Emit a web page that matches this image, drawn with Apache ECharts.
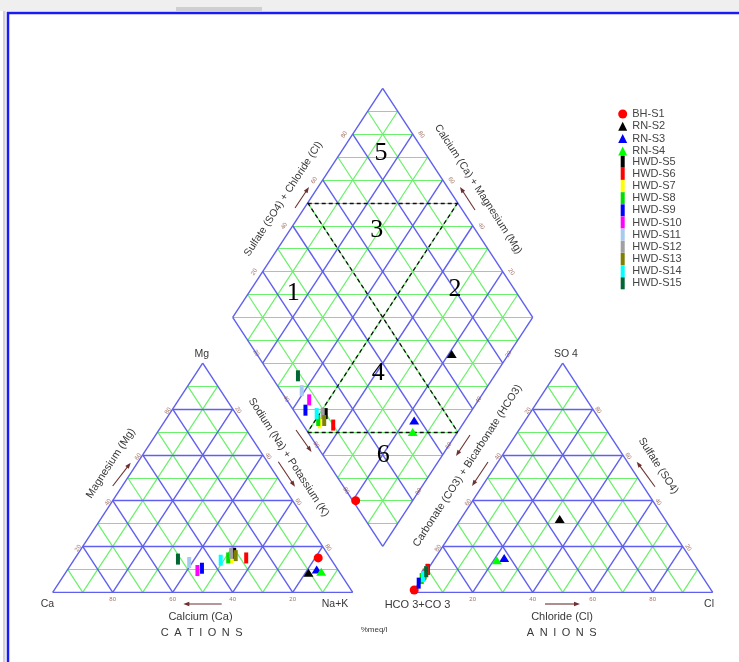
<!DOCTYPE html>
<html>
<head>
<meta charset="utf-8">
<script src="https://cdn.jsdelivr.net/npm/echarts@6/dist/echarts.min.js"></script>
<style>
html, body { margin: 0; padding: 0; background: #fff; }
#chart { width: 739px; height: 662px; }
</style>
</head>
<body>
<div id="chart"></div>
<script>
// Samples (percent of meq/l)
const samples = ['BH-S1', 'RN-S2', 'RN-S3', 'RN-S4', 'HWD-S5', 'HWD-S6', 'HWD-S7', 'HWD-S8',
  'HWD-S9', 'HWD-S10', 'HWD-S11', 'HWD-S12', 'HWD-S13', 'HWD-S14', 'HWD-S15'];
const colors = ['#ff0000', '#000000', '#0000ff', '#00ff00', '#000000', '#ff0000', '#ffff00', '#00dd00',
  '#0000ff', '#ff00ff', '#a6caf0', '#a0a0a0', '#808000', '#00ffff', '#006633'];
const symbols = ['circle', 'triangle', 'triangle', 'triangle', 'rect', 'rect', 'rect', 'rect',
  'rect', 'rect', 'rect', 'rect', 'rect', 'rect', 'rect'];

// cations
const ca  = [4,   10.5, 7,  6,  31, 28, 33, 34, 45,   47,   48, 32, 31, 37, 51];
const mg  = [15,  8.5,  10, 9,  17, 15, 15, 15, 10.5, 9.5,  13, 17, 16, 14, 14.5];
const nak = [81,  81,   83, 85, 52, 57, 52, 51, 44.5, 43.5, 39, 51, 53, 49, 34.5];
// anions
const hco3 = [99, 35, 62, 65, 90, 90, 94, 94, 96, 92.5, 93, 91, 92, 93, 91];
const so4  = [1,  32, 15, 14, 10, 10, 6,  6,  4,  7.5,  7,  9,  8,  7,  9];
const cl   = [0,  33, 23, 21, 0,  0,  0,  0,  0,  0,    0,  0,  0,  0,  0];

const tickValues = [20, 40, 60, 80];
const gridSteps = [10, 20, 30, 40, 50, 60, 70, 80, 90];

// diagram geometry (triangle side = 100 units)
const H = Math.sqrt(3) / 2;
const GAP = 20;
const AX = 100 + GAP;
function cat(c, m, n) { return [n + m / 2, m * H]; }
function an(h, s, c) { return [AX + c + s / 2, s * H]; }
function dia(n, h) { return [(200 + GAP + n - h) / 2, H * (200 + GAP - n - h)]; }

const blueLines = [], greenLines = [], dashLines = [];
function seg(k, a, b) { (k % 20 === 0 ? blueLines : greenLines).push({ coords: [a, b] }); }
gridSteps.forEach(k => {
  seg(k, cat(100 - k, k, 0), cat(0, k, 100 - k));
  seg(k, cat(100 - k, 0, k), cat(0, 100 - k, k));
  seg(k, cat(k, 0, 100 - k), cat(k, 100 - k, 0));
  seg(k, an(100 - k, k, 0), an(0, k, 100 - k));
  seg(k, an(100 - k, 0, k), an(0, 100 - k, k));
  seg(k, an(k, 0, 100 - k), an(k, 100 - k, 0));
  seg(k, dia(k, 0), dia(k, 100));
  seg(k, dia(0, k), dia(100, k));
});
for (let c = 10; c < 200; c += 10) {
  const a = c <= 100 ? dia(0, c) : dia(c - 100, 100);
  const b = c <= 100 ? dia(c, 0) : dia(100, c - 100);
  greenLines.push({ coords: [a, b] });
}
// outlines
[[cat(100, 0, 0), cat(0, 0, 100)], [cat(0, 0, 100), cat(0, 100, 0)], [cat(0, 100, 0), cat(100, 0, 0)],
 [an(100, 0, 0), an(0, 0, 100)], [an(0, 0, 100), an(0, 100, 0)], [an(0, 100, 0), an(100, 0, 0)],
 [dia(0, 0), dia(100, 0)], [dia(100, 0), dia(100, 100)], [dia(100, 100), dia(0, 100)], [dia(0, 100), dia(0, 0)]
].forEach(p => blueLines.push({ coords: p }));
// facies boundaries
[[dia(0, 50), dia(50, 0)], [dia(50, 100), dia(100, 50)], [dia(0, 50), dia(100, 50)], [dia(50, 0), dia(50, 100)]]
  .forEach(p => dashLines.push({ coords: p }));

// edge tick labels
const tickItems = [];
function tick(pos, k, rot, off) {
  tickItems.push({ value: pos, label: { formatter: String(k), rotate: rot, offset: off } });
}
tickValues.forEach(k => {
  tick(cat(k, 0, 100 - k), k, 0, [0, 7]);
  tick(cat(100 - k, k, 0), k, 57, [-4, -3]);
  tick(cat(0, 100 - k, k), k, -57, [4, -4]);
  tick(an(100 - k, 0, k), k, 0, [0, 7]);
  tick(an(k, 100 - k, 0), k, 57, [-4, -3]);
  tick(an(0, k, 100 - k), k, -57, [4, -4]);
  tick(dia(0, 100 - k), k, 57, [-5, -7]);
  tick(dia(100 - k, 0), k, -57, [5, -7]);
  tick(dia(k, 100), k, -57, [-12, 0]);
  tick(dia(100, k), k, 57, [11, 0]);
});

const sampleSeries = samples.map((name, i) => ({
  type: 'scatter',
  name: name,
  symbol: symbols[i],
  symbolSize: symbols[i] === 'rect' ? [4, 11] : (symbols[i] === 'circle' ? 9 : [10, 8]),
  clip: false,
  silent: true,
  z: 10 + i,
  itemStyle: { color: colors[i], opacity: 1 },
  data: [cat(ca[i], mg[i], nak[i]), an(hco3[i], so4[i], cl[i]), dia(nak[i], hco3[i])]
}));

const FONT = '"Liberation Sans", Arial, sans-serif';
const TXT = '#383838';
const BROWN = '#6e3030';

function text(str, x, y, size, rotDeg) {
  return {
    type: 'text', x: x, y: y, rotation: (rotDeg || 0) * Math.PI / 180, silent: true, z: 50,
    style: { text: str, font: size + 'px ' + FONT, fill: TXT, align: 'center', verticalAlign: 'middle',
      textAlign: 'center', textVerticalAlign: 'middle' }
  };
}
function arrow(x1, y1, x2, y2) {
  const dx = x2 - x1, dy = y2 - y1, L = Math.hypot(dx, dy), ux = dx / L, uy = dy / L;
  return [
    { type: 'line', silent: true, z: 50, shape: { x1: x1, y1: y1, x2: x2 - ux * 3, y2: y2 - uy * 3 },
      style: { stroke: BROWN, lineWidth: 1.1 } },
    { type: 'polygon', silent: true, z: 50,
      shape: { points: [[x2, y2], [x2 - ux * 6 - uy * 2.2, y2 - uy * 6 + ux * 2.2], [x2 - ux * 6 + uy * 2.2, y2 - uy * 6 - ux * 2.2]] },
      style: { fill: BROWN } }
  ];
}
const zoneFont = '26px "Liberation Serif", "Times New Roman", serif';
function zone(str, x, y) {
  return { type: 'text', x: x, y: y, silent: true, z: 40,
    style: { text: str, font: zoneFont, fill: '#000', align: 'center', verticalAlign: 'middle',
      textAlign: 'center', textVerticalAlign: 'middle' } };
}

const graphics = [
  { type: 'rect', silent: true, z: 0, shape: { x: 0, y: 0, width: 739, height: 11 }, style: { fill: '#efefef' } },
  { type: 'rect', silent: true, z: 1, shape: { x: 176, y: 7, width: 86, height: 4 }, style: { fill: '#cfcfcf' } },
  { type: 'rect', silent: true, z: 0, shape: { x: 3, y: 11, width: 2.5, height: 651 }, style: { fill: '#d2d2d2' } },
  { type: 'rect', silent: true, z: 2, shape: { x: 8, y: 13, width: 760, height: 700 },
    style: { fill: 'none', stroke: '#1a1af2', lineWidth: 2.5 } },
  text('Mg', 201.7, 354, 10.5),
  text('Ca', 47.5, 604, 10.5),
  text('Na+K', 335, 604, 10.5),
  text('SO 4', 566, 354, 10.5),
  text('HCO 3+CO 3', 417.5, 604.5, 11),
  text('Cl', 709, 604, 10.5),
  text('Magnesium (Mg)', 110.7, 463.3, 10.8, 57),
  text('Sodium (Na) + Potassium (K)', 288.7, 457.3, 10.7, -57),
  text('Sulfate (SO4) + Chloride (Cl)', 283.3, 199, 10.5, 57),
  text('Calcium (Ca) + Magnesium (Mg)', 478.3, 189.2, 10.5, -57),
  text('Carbonate (CO3) + Bicarbonate (HCO3)', 467.5, 465.8, 10.7, 57),
  text('Sulfate (SO4)', 658.3, 465.8, 10.7, -57),
  text('Calcium (Ca)', 200.5, 616.5, 11),
  text('Chloride (Cl)', 562, 616.5, 11),
  text('C\u2002A\u2002T\u2002I\u2002O\u2002N\u2002S', 201.7, 633, 11),
  text('A\u2002N\u2002I\u2002O\u2002N\u2002S', 561.7, 633, 11),
  text('%meq/l', 374, 630, 8),
  zone('5', 381, 153.5), zone('3', 376.7, 230), zone('1', 293.3, 292.7),
  zone('2', 455, 289.3), zone('4', 378.3, 373.3), zone('6', 383.3, 455)
].concat(
  arrow(112.7, 486, 130.7, 462.7),
  arrow(278.3, 461.7, 295, 486.7),
  arrow(296, 430, 311.5, 452),
  arrow(221.7, 604, 183.3, 604),
  arrow(295, 208, 309, 187),
  arrow(475, 210, 460, 187),
  arrow(470, 435, 456, 456),
  arrow(488, 462, 472, 486),
  arrow(655, 486.7, 636.7, 461.7),
  arrow(545, 604, 580, 604)
);

const barIcon = 'path://M0,0 L0,0 M9,12 L9,12 M2.5,0 L6.5,0 L6.5,12 L2.5,12 Z';

const chart = echarts.init(document.getElementById('chart'), null, { renderer: 'canvas' });
chart.setOption({
  animation: false,
  backgroundColor: '#fff',
  grid: { left: 52.7, top: 88.3, width: 660, height: 504 },
  xAxis: { type: 'value', min: 0, max: 200 + GAP, show: false },
  yAxis: { type: 'value', min: 0, max: H * (200 + GAP), show: false },
  legend: [
    {
      orient: 'vertical', left: 618.2, top: 108.5, padding: 0, itemWidth: 9, itemHeight: 9, itemGap: 1.3,
      selectedMode: false, data: samples.slice(0, 4),
      textStyle: { fontSize: 11, lineHeight: 9, color: '#444', fontFamily: FONT }
    },
    {
      orient: 'vertical', left: 618.2, top: 155.7, padding: 0, itemWidth: 9, itemHeight: 12, itemGap: 0.16,
      selectedMode: false, icon: barIcon, data: samples.slice(4),
      textStyle: { fontSize: 11, lineHeight: 12, color: '#444', fontFamily: FONT }
    }
  ],
  graphic: graphics,
  series: [
    { type: 'lines', coordinateSystem: 'cartesian2d', silent: true, z: 2, data: greenLines,
      lineStyle: { color: '#6af06a', width: 1.2, opacity: 1 } },
    { type: 'lines', coordinateSystem: 'cartesian2d', silent: true, z: 3, data: blueLines,
      lineStyle: { color: '#5f5ff0', width: 1.4, opacity: 1 } },
    { type: 'lines', coordinateSystem: 'cartesian2d', silent: true, z: 4, data: dashLines,
      lineStyle: { color: '#111', width: 1.3, type: [4, 3], opacity: 1 } },
    { type: 'scatter', symbolSize: 0, clip: false, silent: true, z: 5, data: tickItems,
      label: { show: true, position: 'inside', fontSize: 6, color: '#8b5040', fontFamily: FONT } }
  ].concat(sampleSeries)
});
</script>
</body>
</html>
